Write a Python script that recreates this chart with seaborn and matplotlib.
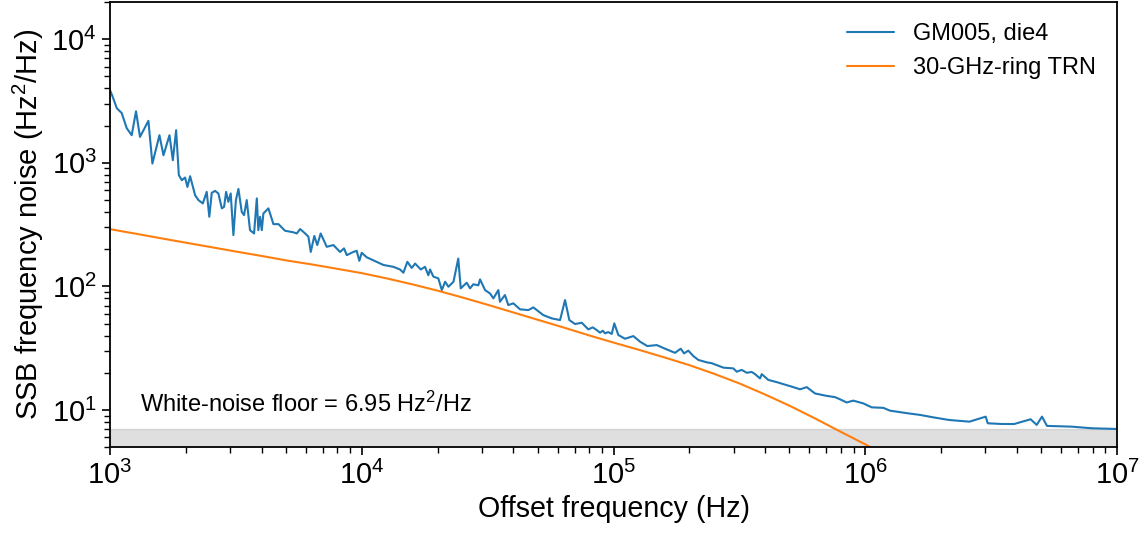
import numpy as np
import pandas as pd
import seaborn as sns
import matplotlib
matplotlib.use("Agg")
import matplotlib.pyplot as plt

# --- data ---
# measured frequency noise, GM005 die4
blue_f = [1000, 1019, 1064, 1112, 1165, 1219, 1268, 1315, 1420, 1473, 1571, 1630, 1722,
          1776, 1830, 1876, 1928, 1987, 2029, 2080, 2177, 2244, 2336, 2421, 2479, 2535,
          2612, 2693, 2780, 2838, 2891, 2951, 3015, 3090, 3162, 3236, 3335, 3406, 3491,
          3597, 3733, 3828, 3882, 3944, 4006, 4065, 4256, 4456, 4666, 4955, 5346, 5518,
          5689, 5957, 6138, 6270, 6478, 6655, 6867, 7256, 7712, 8199, 8501, 8716, 9254,
          9544, 9777, 9995, 10460, 11290, 12190, 13350, 14190, 14630, 15170, 15790,
          16290, 17150, 17830, 18380, 18670, 19240, 20140, 20790, 21430, 22090, 23130,
          24170, 24720, 26110, 26920, 27740, 29040, 29500, 30880, 32310, 33320, 34870,
          35380, 37050, 38190, 39980, 42530, 45900, 48020, 52580, 56780,
          61330, 64180, 66740, 70330, 74760, 79410, 82670, 85770, 88400, 90620, 92530,
          95350, 98360, 100700, 104500, 111100, 119900, 127400, 136200, 148500, 162700,
          175500, 184900, 190600, 198200, 207500, 217200, 234600, 245500, 260900,
          273200, 299200, 308700, 323000, 338100, 354000, 364800, 381900, 387900,
          412000, 444900, 487500, 517800, 550700, 585500, 631700, 703000, 758400,
          793700, 843700, 896600, 982200, 1061000, 1180000, 1254000,
          1481000, 1656000, 1853000, 2151000, 2593000, 3008000, 3067000, 3492000,
          3907000, 4537000, 4798000, 5035000, 5272000, 6590000, 7943000, 9930000]
blue_s = [3860, 3520, 2760, 2530, 1905, 1672, 2610, 1620, 2185, 986, 1672, 1151, 1672,
          1049, 1836, 795, 723, 760, 638, 779, 547, 499, 469, 582, 366, 571,
          593, 565, 428, 440, 582, 483, 565, 260, 499, 615, 401, 377, 499,
          285, 268, 515, 285, 366, 285, 389, 428, 319, 319, 282, 274, 268,
          291, 268, 252, 190, 256, 216, 268, 209, 216, 190, 203, 179, 190,
          194, 161, 187, 172, 160, 149, 144, 137, 129, 158, 141,
          153, 137, 144, 123, 137, 120, 116, 93.3, 109, 99.3, 109,
          168, 96.4, 107, 96.4, 104, 102, 114, 93.3, 87.7, 80.0, 93.3,
          75.1, 85.1, 70.6, 72.9, 65.2, 64.3, 67.6, 58.6, 55.1,
          53.4, 77.5, 53.4, 49.6, 50.8, 44.9, 46.6, 44.3, 42.2, 43.8, 41.7,
          42.7, 41.2, 50.2, 40.4, 37.7, 39.6, 35.7, 32.9, 33.5, 30.9,
          29.0, 31.3, 28.7, 30.2, 27.3, 25.4, 24.3, 23.9, 22.8,
          22.0, 21.7, 20.4, 21.1, 20.0, 20.3, 19.5, 18.0, 19.5,
          17.5, 16.8, 15.9, 15.3, 14.7, 15.3, 13.6, 13.0, 12.7,
          12.2, 11.5, 11.9, 11.3, 10.5, 10.4, 9.87,
          9.39, 9.11, 8.73, 8.30, 8.04, 8.83, 7.80, 7.70,
          7.70, 8.41, 7.57, 8.83, 7.43, 7.33, 7.11, 7.02]

# thermorefractive noise model curve
orange_f = [1000, 1259, 1585, 1995, 2512, 3162, 3981, 5012, 6310, 7943,
            10000, 12590, 15850, 19950, 25120, 31620, 39810, 50120, 63100, 79430,
            100000, 125900, 158500, 199500, 251200, 316200, 398100, 501200, 631000,
            794300, 1000000, 1259000]
orange_s = [290.4, 267.3, 245.5, 225.9, 208.0, 191.4, 176.6, 162.2, 150.7, 139.0,
            128.0, 115.9, 104.0, 92.5, 81.3, 71.0, 61.7, 53.6, 46.6, 40.3,
            35.1, 30.7, 26.7, 23.1, 19.6, 16.4, 13.4, 10.8, 8.55,
            6.70, 5.27, 4.07]

floor_value = 6.95

blue_df = pd.DataFrame({"freq": blue_f, "noise": blue_s})
orange_df = pd.DataFrame({"freq": orange_f, "noise": orange_s})

sns.set_style("ticks")
plt.rcParams["font.family"] = ["Liberation Sans", "DejaVu Sans"]
plt.rcParams["mathtext.fontset"] = "custom"
plt.rcParams["mathtext.rm"] = "Liberation Sans"
plt.rcParams["mathtext.it"] = "Liberation Sans:italic"
plt.rcParams["mathtext.bf"] = "Liberation Sans:bold"
for k in ["text.color", "axes.labelcolor", "xtick.color", "ytick.color", "axes.edgecolor"]:
    plt.rcParams[k] = "black"

fig, ax = plt.subplots(figsize=(11.44, 5.44), dpi=100)
fig.subplots_adjust(left=0.0962, right=0.9764, top=0.9963, bottom=0.178)

ax.axhspan(1, floor_value, color="gray", alpha=0.25, zorder=0)
sns.lineplot(data=blue_df, x="freq", y="noise", ax=ax, color="#1f77b4", lw=1.5,
             estimator=None, sort=False, label="GM005, die4")
sns.lineplot(data=orange_df, x="freq", y="noise", ax=ax, color="#ff7f0e", lw=1.5,
             estimator=None, sort=False, label="30-GHz-ring TRN")

ax.set_xscale("log")
ax.set_yscale("log")
ax.set_xlim(1e3, 1e7)
ax.set_ylim(5, 2e4)

ax.text(1.32e3, 9.6, "White-noise floor = 6.95 Hz$^2$/Hz", fontsize=17)

ax.set_xlabel("Offset frequency (Hz)", fontsize=20.6)
ax.set_ylabel("SSB frequency noise (Hz$^2$/Hz)", fontsize=21)
ax.tick_params(axis="both", which="major", labelsize=21, length=6, width=1.2,
               direction="out")
ax.tick_params(axis="both", which="minor", length=4, width=1.0, direction="out")
for sp in ax.spines.values():
    sp.set_linewidth(1.3)

ax.legend(loc="upper right", frameon=False, fontsize=17, handlelength=2.0)

plt.savefig("out.png", dpi=100)
